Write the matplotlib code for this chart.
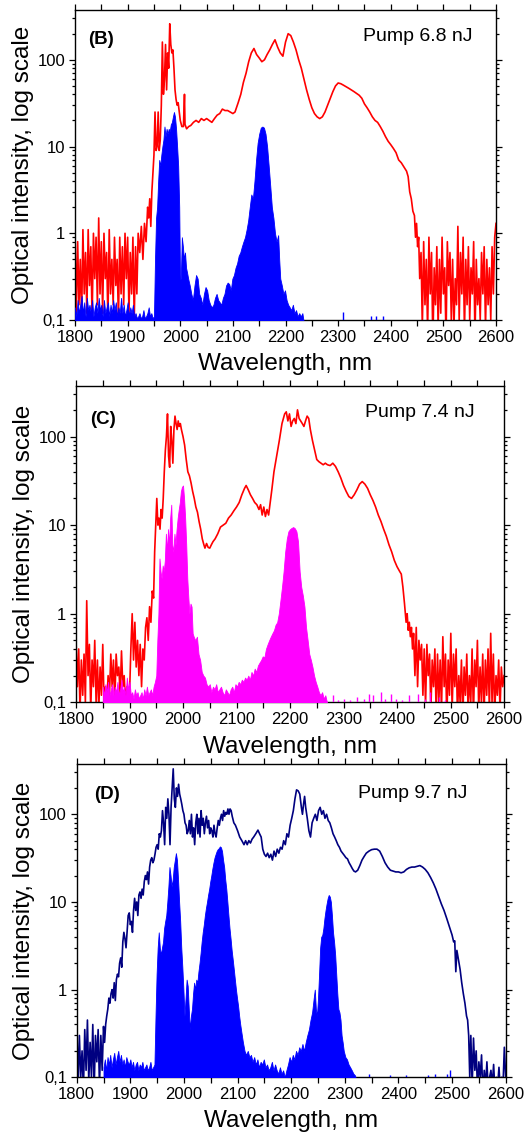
import numpy as np
import matplotlib
matplotlib.use("Agg")
import matplotlib.pyplot as plt
from matplotlib.ticker import FixedLocator, FuncFormatter, MultipleLocator

plt.rcParams['font.family'] = ['Liberation Sans', 'DejaVu Sans']

# ---------------- data (wavelength nm, intensity a.u.) -------------

def seg(start, stop, vals):
    # noisy stretch: values typed by hand, spread evenly between start and stop
    return list(zip(np.linspace(start, stop, len(vals)), vals))

# (B) pump 6.8 nJ
b_red = seg(1800, 1920, [1.0, 0.12, 0.8, 0.15, 0.5, 0.1, 1.1, 0.2, 0.6, 0.12, 1.1, 0.25, 0.7, 0.1,
                         1.0, 0.3, 0.9, 0.15, 1.5, 0.2, 0.8, 0.12, 1.0, 0.3, 0.6, 0.1, 1.1, 0.2, 0.5,
                         0.15, 0.9, 0.25, 0.5, 0.1, 0.9, 0.2, 0.7, 0.15, 1.0, 0.3, 0.9, 0.12, 0.6, 0.2,
                         0.9, 0.1, 0.7, 0.2, 1.0]) + [
    (1923, 0.6), (1926, 1.2), (1929, 0.5), (1932, 1.3), (1935, 0.8), (1938, 2.0), (1940, 1.5),
    (1942, 2.5), (1944, 1.2), (1946, 3.0), (1948, 5), (1950, 8), (1952, 25), (1954, 9), (1956, 10),
    (1958, 25), (1960, 9), (1962, 12), (1964, 30), (1966, 160), (1968, 40), (1970, 60), (1972, 150),
    (1974, 45), (1976, 120), (1978, 80), (1980, 260), (1982, 150), (1984, 120), (1986, 130),
    (1988, 80), (1990, 45), (1992, 35), (1994, 30), (1996, 32), (1998, 25), (2000, 20), (2003, 17),
    (2006, 17), (2008, 40), (2009, 18), (2012, 16), (2016, 17), (2020, 17.5), (2025, 19), (2030, 20),
    (2035, 19), (2040, 21), (2045, 20), (2050, 21), (2055, 20), (2060, 19), (2065, 21), (2070, 23),
    (2075, 24), (2080, 27), (2085, 26), (2090, 26), (2095, 25), (2100, 24), (2104, 25), (2110, 32),
    (2115, 40), (2120, 55), (2125, 70), (2130, 95), (2135, 120), (2140, 135), (2145, 115),
    (2150, 105), (2155, 95), (2160, 100), (2165, 115), (2170, 130), (2175, 150), (2180, 170),
    (2185, 140), (2190, 120), (2195, 110), (2200, 160), (2205, 200), (2210, 190), (2215, 160),
    (2220, 130), (2225, 100), (2230, 80), (2235, 60), (2240, 45), (2245, 35), (2250, 28), (2255, 24),
    (2260, 22), (2265, 21), (2270, 22), (2275, 25), (2280, 30), (2285, 36), (2290, 43), (2295, 50),
    (2300, 54), (2305, 53), (2310, 51), (2320, 47), (2330, 43), (2340, 39), (2345, 36), (2350, 31),
    (2355, 28), (2360, 25), (2365, 22), (2370, 20), (2375, 19), (2380, 17), (2385, 15), (2390, 13),
    (2395, 11.5), (2400, 10.5), (2405, 9.5), (2410, 8.5), (2415, 7), (2420, 6.5), (2425, 5.8),
    (2430, 5.2), (2433, 4.5), (2436, 3), (2439, 2.5), (2442, 1.8), (2445, 1.6), (2447, 0.9),
    (2449, 1.3), (2451, 0.7), (2453, 0.9), (2455, 0.3)] + seg(2457.5, 2600, [
    0.6, 0.08, 0.8, 0.15, 0.5, 0.07, 0.9, 0.2, 0.6, 0.05, 0.4, 0.15, 0.7, 0.08, 0.5, 0.12, 0.9, 0.2,
    0.4, 0.06, 0.8, 0.25, 0.6, 0.1, 0.5, 0.08, 0.3, 0.15, 1.2, 0.1, 0.6, 0.2, 0.9, 0.07, 0.5, 0.15,
    0.7, 0.1, 0.4, 0.2, 0.8, 0.06, 0.5, 0.15, 0.3, 0.1, 0.6, 0.2, 0.7, 0.08, 0.5, 0.15, 0.4, 0.1,
    0.7, 0.2, 0.9, 1.3])

b_blue = seg(1800, 1950, [0.14, 0.11, 0.17, 0.12, 0.15, 0.19, 0.12, 0.16, 0.11, 0.18, 0.13, 0.15,
                          0.12, 0.17, 0.11, 0.14, 0.16, 0.12, 0.18, 0.13, 0.15, 0.11, 0.17, 0.12,
                          0.14, 0.16, 0.11, 0.15, 0.12, 0.17, 0.13, 0.16, 0.11, 0.14, 0.12, 0.18,
                          0.12, 0.15, 0.11, 0.13, 0.16, 0.11, 0.14, 0.12, 0.15, 0.11, 0.12, 0.105,
                          0.11, 0.12, 0.105, 0.11, 0.13, 0.105, 0.11, 0.12, 0.14, 0.11, 0.12, 0.105,
                          0.11]) + [
    (1952, 0.5), (1954, 1.5), (1956, 2.0), (1958, 4), (1960, 7), (1962, 6), (1964, 8), (1966, 10),
    (1968, 12), (1970, 17), (1972, 13), (1974, 16), (1976, 14), (1978, 16), (1980, 15), (1982, 18),
    (1984, 19), (1986, 22), (1988, 25), (1990, 22), (1992, 16), (1994, 10), (1996, 6), (1998, 2),
    (1999.5, 0.3), (2001, 0.3), (2003, 0.9), (2005, 0.7), (2007, 0.5), (2009, 0.6), (2011, 0.4),
    (2013, 0.35), (2015, 0.3), (2018, 0.25), (2021, 0.2), (2024, 0.17), (2027, 0.25), (2030, 0.33),
    (2033, 0.3), (2036, 0.2), (2039, 0.18), (2042, 0.15), (2045, 0.2), (2048, 0.24), (2051, 0.22),
    (2054, 0.17), (2057, 0.15), (2060, 0.14), (2063, 0.15), (2066, 0.18), (2069, 0.2), (2072, 0.17),
    (2075, 0.16), (2078, 0.15), (2081, 0.18), (2084, 0.2), (2087, 0.25), (2090, 0.27), (2093, 0.26),
    (2096, 0.22), (2099, 0.3), (2102, 0.33), (2105, 0.4), (2108, 0.45), (2111, 0.55), (2114, 0.6),
    (2117, 0.7), (2120, 0.8), (2123, 0.9), (2126, 1.1), (2129, 1.4), (2132, 2.0), (2135, 2.8),
    (2138, 2.5), (2141, 4), (2144, 7), (2147, 11), (2150, 14), (2153, 16.5), (2156, 17), (2159, 16.5),
    (2162, 14), (2165, 10), (2168, 6), (2171, 3.5), (2174, 2), (2177, 1.5), (2180, 1.0), (2183, 0.8),
    (2186, 0.95), (2188, 0.5), (2190, 0.3), (2193, 0.25), (2196, 0.2), (2199, 0.22), (2202, 0.17),
    (2205, 0.15), (2208, 0.14), (2211, 0.13), (2214, 0.15), (2217, 0.12), (2220, 0.13), (2223, 0.11),
    (2226, 0.12), (2229, 0.11), (2232, 0.12), (2234, 0.1), (2236, 0.09)]
b_blue_spikes_wl = [2310, 2363, 2372, 2385]
b_blue_spikes = [0.125, 0.11, 0.11, 0.11]

# (C) pump 7.4 nJ
c_red = seg(1800, 1945, [0.5, 0.15, 0.4, 0.08, 0.3, 0.12, 0.35, 0.1, 1.4, 0.2, 0.45, 0.08, 0.3,
                         0.15, 0.5, 0.1, 0.3, 0.08, 0.25, 0.12, 0.45, 0.09, 0.15, 0.1, 0.2, 0.12,
                         0.35, 0.15, 0.3, 0.1, 0.35, 0.2, 0.25, 0.12, 0.38, 0.15, 0.2, 0.1, 0.15,
                         0.1, 0.12, 0.4, 1.0, 0.3, 0.8, 0.25, 0.5, 0.2, 0.45, 0.15, 0.4, 0.3, 0.7,
                         0.9, 0.5, 1.2, 0.8, 1.8, 1.5]) + [
    (1947, 5), (1949, 10), (1951, 20), (1953, 10), (1955, 12), (1957, 9), (1959, 15), (1961, 12),
    (1963, 20), (1965, 40), (1967, 70), (1969, 100), (1971, 180), (1973, 60), (1975, 45), (1977, 130),
    (1979, 90), (1981, 50), (1983, 120), (1985, 170), (1987, 140), (1989, 120), (1991, 150),
    (1993, 130), (1995, 140), (1997, 120), (2000, 100), (2003, 80), (2006, 55), (2009, 40), (2012, 36),
    (2015, 30), (2018, 24), (2021, 20), (2024, 16), (2027, 14), (2030, 11), (2033, 9), (2036, 7),
    (2039, 6), (2041, 5.5), (2044, 6.2), (2047, 5.6), (2050, 5.5), (2053, 6), (2056, 6.5), (2060, 7),
    (2065, 8), (2070, 9.5), (2075, 10), (2080, 10.5), (2085, 12), (2090, 13), (2095, 14.5),
    (2100, 16), (2105, 18), (2110, 22), (2115, 26), (2118, 28), (2122, 25), (2126, 22), (2130, 20),
    (2134, 18), (2138, 17), (2142, 15), (2145, 17), (2148, 13), (2151, 16), (2154, 12.5), (2157, 15),
    (2160, 13), (2163, 18), (2166, 25), (2170, 40), (2175, 60), (2180, 90), (2185, 140), (2190, 180),
    (2193, 190), (2196, 150), (2199, 180), (2202, 130), (2205, 150), (2208, 160), (2211, 140),
    (2214, 200), (2217, 160), (2220, 150), (2223, 140), (2226, 130), (2229, 150), (2232, 170),
    (2235, 160), (2238, 120), (2242, 90), (2246, 70), (2250, 55), (2254, 52), (2258, 50), (2262, 48),
    (2266, 50), (2270, 48), (2275, 47), (2280, 50), (2285, 46), (2290, 40), (2295, 34), (2300, 28),
    (2305, 24), (2310, 21), (2315, 20), (2320, 22), (2325, 25), (2330, 29), (2335, 31), (2340, 29),
    (2345, 26), (2350, 22), (2355, 19), (2360, 16), (2365, 13), (2370, 11), (2375, 9), (2380, 7.5),
    (2385, 6), (2390, 5), (2395, 4), (2400, 3.4), (2405, 3), (2408, 2.8), (2411, 2), (2414, 1.3),
    (2417, 0.8), (2419, 1.0), (2421, 0.65), (2423, 0.8), (2425, 0.55), (2427, 0.7),
    (2429, 0.4)] + seg(2431, 2600, [
    0.6, 0.2, 0.7, 0.15, 0.5, 0.3, 0.45, 0.12, 0.4, 0.09, 0.45, 0.2, 0.35, 0.08, 0.3, 0.15, 0.4,
    0.07, 0.35, 0.1, 0.3, 0.08, 0.55, 0.15, 0.35, 0.06, 0.3, 0.12, 0.6, 0.08, 0.35, 0.15, 0.4, 0.07,
    0.2, 0.1, 0.3, 0.06, 0.25, 0.12, 0.35, 0.08, 0.2, 0.1, 0.4, 0.07, 0.3, 0.15, 0.5, 0.08, 0.25,
    0.1, 0.35, 0.07, 0.3, 0.12, 0.4, 0.08, 0.6, 0.1, 0.35, 0.07, 0.2, 0.12, 0.3, 0.08, 0.25, 0.15,
    0.2])

c_magenta = seg(1850, 1950, [0.15, 0.12, 0.16, 0.13, 0.17, 0.12, 0.14, 0.16, 0.12, 0.15, 0.13,
                             0.17, 0.12, 0.14, 0.18, 0.13, 0.15, 0.12, 0.19, 0.14, 0.17, 0.12, 0.13,
                             0.11, 0.14, 0.12, 0.13, 0.11, 0.12, 0.13, 0.11, 0.14, 0.12, 0.15, 0.12,
                             0.13, 0.14, 0.12, 0.15, 0.17, 0.2]) + [
    (1952, 0.5), (1954, 1.0), (1956, 4.2), (1958, 3), (1960, 2.5), (1962, 3.5), (1964, 3), (1966, 4),
    (1968, 8), (1970, 5), (1972, 9), (1974, 6), (1976, 12), (1978, 17), (1980, 6), (1982, 5),
    (1984, 8), (1986, 6), (1988, 9), (1990, 12), (1992, 15), (1994, 18), (1996, 24), (1998, 27),
    (2000, 28), (2002, 20), (2004, 12), (2006, 6), (2008, 2.5), (2010, 1.5), (2012, 1.0), (2014, 1.3),
    (2016, 1.2), (2018, 0.6), (2020, 0.55), (2023, 0.5), (2026, 0.55), (2029, 0.35), (2032, 0.3),
    (2035, 0.22), (2038, 0.2), (2041, 0.19), (2044, 0.16), (2047, 0.15), (2050, 0.16), (2053, 0.13),
    (2056, 0.15), (2059, 0.14), (2062, 0.16), (2065, 0.13), (2068, 0.14), (2071, 0.15), (2074, 0.13),
    (2077, 0.12), (2080, 0.14), (2083, 0.13), (2086, 0.12), (2089, 0.14), (2092, 0.15), (2095, 0.13),
    (2098, 0.16), (2101, 0.15), (2104, 0.17), (2107, 0.16), (2110, 0.18), (2113, 0.17), (2116, 0.19),
    (2119, 0.18), (2122, 0.2), (2125, 0.18), (2128, 0.22), (2131, 0.2), (2134, 0.24), (2137, 0.22),
    (2140, 0.26), (2143, 0.28), (2146, 0.3), (2149, 0.33), (2152, 0.32), (2155, 0.4), (2158, 0.45),
    (2161, 0.5), (2164, 0.55), (2167, 0.6), (2170, 0.65), (2173, 0.75), (2176, 0.8), (2179, 1.0),
    (2182, 1.4), (2185, 2.0), (2188, 3), (2191, 5), (2194, 7), (2197, 8.5), (2200, 9), (2203, 9.3),
    (2206, 9.5), (2209, 9.2), (2212, 8.5), (2215, 6.5), (2218, 3), (2221, 2), (2224, 1.6),
    (2227, 1.2), (2230, 0.7), (2233, 0.5), (2236, 0.35), (2239, 0.3), (2242, 0.25), (2245, 0.2),
    (2248, 0.17), (2251, 0.15), (2254, 0.13), (2257, 0.12), (2260, 0.13), (2263, 0.11), (2266, 0.12),
    (2269, 0.1), (2271, 0.09)]
c_magenta_spikes_wl = [2280, 2290, 2300, 2312, 2325, 2338, 2348, 2356, 2370, 2378, 2388, 2398,
                       2410, 2422, 2440, 2452, 2462, 2478, 2490]
c_magenta_spikes = [0.12, 0.105, 0.11, 0.105, 0.115, 0.11, 0.125, 0.12, 0.13, 0.11, 0.125, 0.11,
                    0.105, 0.12, 0.125, 0.11, 0.13, 0.115, 0.105]

# (D) pump 9.7 nJ
d_navy = seg(1800, 1850, [0.5, 0.08, 0.3, 0.1, 0.2, 0.07, 0.35, 0.12, 0.45, 0.09, 0.25, 0.1, 0.4,
                          0.07, 0.3, 0.15, 0.35, 0.08, 0.3, 0.12, 0.38]) + [
    (1852, 0.25), (1854, 0.4), (1856, 0.5), (1858, 0.6), (1860, 0.8), (1862, 0.7), (1864, 0.9),
    (1866, 1.0), (1868, 0.8), (1870, 1.2), (1872, 0.75), (1874, 1.3), (1876, 1.5), (1878, 1.4),
    (1880, 2.0), (1882, 2.3), (1884, 1.8), (1886, 3.5), (1888, 4.5), (1890, 3.8), (1892, 3.0),
    (1894, 4.5), (1896, 7), (1898, 7.5), (1900, 5.5), (1902, 6), (1904, 4.5), (1906, 8), (1908, 11),
    (1910, 8), (1912, 10), (1914, 7), (1916, 12), (1918, 13), (1920, 11), (1922, 14), (1924, 12),
    (1926, 17), (1928, 20), (1930, 18), (1932, 22), (1934, 16), (1936, 25), (1938, 30), (1940, 32),
    (1942, 28), (1944, 30), (1946, 35), (1948, 42), (1950, 45), (1952, 40), (1954, 60), (1956, 55),
    (1958, 65), (1960, 110), (1962, 80), (1964, 45), (1966, 120), (1968, 90), (1970, 150),
    (1972, 100), (1974, 45), (1976, 120), (1978, 200), (1980, 330), (1982, 150), (1984, 120),
    (1986, 200), (1988, 160), (1990, 220), (1992, 170), (1994, 150), (1996, 130), (1998, 110),
    (2000, 100), (2002, 80), (2004, 75), (2006, 60), (2008, 65), (2010, 85), (2012, 60), (2014, 100),
    (2016, 55), (2018, 70), (2020, 45), (2022, 80), (2024, 100), (2026, 60), (2028, 90), (2030, 55),
    (2032, 110), (2034, 75), (2036, 90), (2038, 60), (2040, 80), (2042, 95), (2044, 70), (2046, 85),
    (2048, 60), (2050, 70), (2052, 65), (2054, 55), (2056, 75), (2058, 60), (2060, 55), (2062, 70),
    (2064, 85), (2066, 75), (2068, 90), (2070, 100), (2072, 85), (2074, 110), (2076, 95),
    (2078, 105), (2080, 100), (2082, 115), (2084, 100), (2086, 115), (2088, 110), (2090, 95),
    (2093, 80), (2096, 75), (2100, 65), (2104, 55), (2108, 50), (2112, 45), (2115, 50), (2118, 45),
    (2121, 50), (2124, 47), (2127, 52), (2130, 55), (2134, 60), (2138, 66), (2141, 60), (2144, 55),
    (2147, 40), (2150, 35), (2153, 33), (2156, 36), (2159, 32), (2162, 35), (2165, 30), (2168, 38),
    (2171, 33), (2174, 40), (2177, 36), (2180, 42), (2183, 40), (2186, 50), (2189, 45), (2192, 60),
    (2195, 55), (2198, 75), (2201, 90), (2204, 110), (2207, 150), (2210, 190), (2213, 185),
    (2216, 170), (2219, 120), (2221, 100), (2223, 130), (2225, 160), (2227, 120), (2230, 90),
    (2233, 65), (2236, 55), (2239, 80), (2242, 90), (2245, 100), (2248, 85), (2251, 110), (2254, 120),
    (2257, 100), (2260, 110), (2263, 90), (2266, 100), (2269, 85), (2272, 80), (2275, 70), (2278, 60),
    (2281, 55), (2284, 50), (2287, 45), (2290, 42), (2293, 38), (2296, 36), (2299, 34), (2302, 32),
    (2305, 31), (2308, 28), (2311, 26), (2314, 24), (2317, 22.5), (2320, 22), (2324, 23), (2328, 26),
    (2332, 30), (2336, 33), (2340, 36), (2345, 38), (2350, 39.5), (2355, 40), (2360, 40), (2365, 38),
    (2370, 33), (2375, 28), (2380, 25), (2385, 23), (2390, 22.5), (2395, 22), (2400, 22),
    (2405, 21.5), (2410, 22), (2415, 23.5), (2420, 24.5), (2425, 25), (2430, 25), (2435, 25.5),
    (2440, 26), (2445, 25), (2450, 23.5), (2455, 21.5), (2460, 19), (2465, 16.5), (2470, 14),
    (2475, 11.5), (2480, 9.5), (2485, 8), (2490, 6.5), (2495, 5.2), (2500, 4.2), (2503, 3.5),
    (2505, 3.6), (2507, 1.6), (2509, 2.8), (2512, 2.2), (2515, 1.7), (2518, 1.2), (2521, 0.9),
    (2524, 0.7), (2527, 0.5), (2529, 0.45), (2531, 0.3), (2533, 0.1)] + seg(2535, 2600, [
    0.3, 0.08, 0.28, 0.12, 0.2, 0.07, 0.15, 0.1, 0.18, 0.06, 0.12, 0.08, 0.15, 0.07, 0.1, 0.12,
    0.08, 0.14, 0.07, 0.1, 0.08, 0.13, 0.07, 0.1, 0.08, 0.22, 0.1])

d_blue = seg(1850, 1945, [0.13, 0.16, 0.12, 0.17, 0.14, 0.18, 0.13, 0.16, 0.19, 0.14, 0.17, 0.2,
                          0.15, 0.18, 0.14, 0.16, 0.13, 0.17, 0.15, 0.14, 0.16, 0.13, 0.15, 0.12,
                          0.14, 0.15, 0.12, 0.14, 0.13, 0.15, 0.12, 0.13, 0.14, 0.12, 0.13, 0.15,
                          0.12, 0.13, 0.14]) + [
    (1947, 0.5), (1949, 1.5), (1951, 3), (1953, 4.5), (1955, 3), (1957, 2.5), (1959, 3), (1961, 3.5),
    (1963, 5), (1965, 6), (1967, 7), (1969, 10), (1971, 15), (1973, 25), (1975, 20), (1977, 15),
    (1979, 18), (1981, 25), (1983, 30), (1985, 36), (1987, 30), (1989, 18), (1991, 10), (1993, 6),
    (1995, 3), (1997, 1.8), (1999, 1.0), (2001, 0.5), (2003, 0.8), (2005, 1.3), (2007, 1.1),
    (2009, 0.6), (2011, 0.35), (2013, 0.5), (2015, 0.6), (2017, 0.9), (2019, 1.2), (2021, 1.0),
    (2023, 1.3), (2025, 1.2), (2027, 1.6), (2029, 2.0), (2031, 2.6), (2033, 3.5), (2035, 4.5),
    (2037, 5.5), (2039, 7), (2041, 8.5), (2043, 10), (2045, 12), (2047, 14), (2049, 17), (2051, 20),
    (2053, 24), (2055, 28), (2057, 32), (2059, 35), (2061, 38), (2063, 40), (2065, 41), (2067, 43),
    (2069, 42), (2071, 38), (2073, 30), (2075, 25), (2077, 18), (2079, 14), (2081, 10), (2083, 7),
    (2085, 5), (2087, 3.8), (2089, 2.8), (2091, 2.2), (2093, 1.7), (2095, 1.3), (2097, 1.0),
    (2099, 0.8), (2101, 0.65), (2103, 0.5), (2105, 0.4), (2107, 0.33), (2110, 0.25), (2113, 0.2),
    (2116, 0.18), (2119, 0.2), (2122, 0.17), (2125, 0.18), (2128, 0.15), (2131, 0.17), (2134, 0.14),
    (2137, 0.16), (2140, 0.13), (2143, 0.15), (2146, 0.14), (2149, 0.16), (2152, 0.13), (2155, 0.14),
    (2158, 0.12), (2161, 0.13), (2164, 0.15), (2167, 0.12), (2170, 0.14), (2173, 0.12), (2176, 0.11),
    (2179, 0.13), (2182, 0.11), (2185, 0.12), (2188, 0.1), (2191, 0.12), (2194, 0.14), (2197, 0.17),
    (2200, 0.15), (2203, 0.18), (2206, 0.16), (2209, 0.2), (2212, 0.18), (2215, 0.22), (2218, 0.2),
    (2221, 0.24), (2224, 0.2), (2227, 0.25), (2230, 0.3), (2233, 0.35), (2236, 0.45), (2239, 0.55),
    (2242, 0.8), (2244, 1.0), (2246, 0.6), (2248, 0.5), (2250, 0.8), (2252, 1.5), (2254, 3),
    (2256, 4), (2258, 4.2), (2260, 5), (2262, 6.5), (2264, 8), (2266, 9.5), (2268, 11), (2270, 12),
    (2272, 11.5), (2274, 10), (2276, 7), (2278, 4.5), (2280, 3.5), (2282, 2.5), (2284, 1.5),
    (2286, 0.9), (2288, 0.6), (2290, 0.55), (2292, 0.45), (2294, 0.3), (2296, 0.25), (2298, 0.2),
    (2301, 0.17), (2304, 0.16), (2307, 0.14), (2310, 0.13), (2313, 0.12), (2316, 0.11),
    (2319, 0.105), (2322, 0.09)]
d_blue_spikes_wl = [2345, 2385, 2415, 2455, 2468, 2490, 2497]
d_blue_spikes = [0.11, 0.105, 0.105, 0.105, 0.11, 0.11, 0.12]

panels = [
    dict(line=b_red, line_color='#ff0000', fill=b_blue, fill_color='#0000ff',
         spikes=(b_blue_spikes_wl, b_blue_spikes), tag='(B)', pump='Pump 6.8 nJ',
         rect=[0.1429, 0.7183, 0.8019, 0.2729], tag_xy=(0.031, 0.906), pump_xy=(0.684, 0.916)),
    dict(line=c_red, line_color='#ff0000', fill=c_magenta, fill_color='#ff00ff',
         spikes=(c_magenta_spikes_wl, c_magenta_spikes), tag='(C)', pump='Pump 7.4 nJ',
         rect=[0.1448, 0.3818, 0.8152, 0.2787], tag_xy=(0.033, 0.894), pump_xy=(0.675, 0.914)),
    dict(line=d_navy, line_color='#000080', fill=d_blue, fill_color='#0000ff',
         spikes=(d_blue_spikes_wl, d_blue_spikes), tag='(D)', pump='Pump 9.7 nJ',
         rect=[0.1461, 0.0517, 0.8171, 0.2758], tag_xy=(0.041, 0.904), pump_xy=(0.656, 0.907)),
]

fig = plt.figure(figsize=(5.25, 11.36), dpi=100)

for p in panels:
    ax = fig.add_axes(p['rect'])
    lw, li = zip(*p['line'])
    fw, fi = zip(*p['fill'])
    ax.plot(lw, li, color=p['line_color'], lw=1.2, zorder=2)
    ax.fill_between(fw, 0.01, fi, color=p['fill_color'], lw=0.6, zorder=3)
    sw, si = p['spikes']
    ax.vlines(sw, 0.01, si, color=p['fill_color'], lw=1.0, zorder=3)

    ax.set_yscale('log')
    ax.set_xlim(1800, 2600)
    ax.set_ylim(0.1, 375)

    ax.xaxis.set_major_locator(MultipleLocator(100))
    ax.xaxis.set_minor_locator(MultipleLocator(50))
    ax.yaxis.set_major_locator(FixedLocator([0.1, 1, 10, 100]))
    ax.yaxis.set_major_formatter(FuncFormatter(lambda v, _: '0,1' if v < 0.5 else f'{v:.0f}'))
    minors = [m * 10.0 ** e for e in range(-1, 3) for m in range(2, 10)]
    ax.yaxis.set_minor_locator(FixedLocator(minors))
    ax.yaxis.set_minor_formatter(FuncFormatter(lambda v, _: ''))

    ax.tick_params(which='both', direction='out', top=True, right=True, width=0.9,
                   labelsize=12, pad=3)
    ax.tick_params(axis='x', which='both', length=4)
    ax.tick_params(axis='y', which='major', length=4)
    ax.tick_params(axis='y', which='minor', length=2)
    for s in ax.spines.values():
        s.set_linewidth(1.0)

    ax.set_xlabel('Wavelength, nm', fontsize=17.5)
    ax.set_ylabel('Optical intensity, log scale', fontsize=17.5)
    ax.xaxis.set_label_coords(0.5, -0.105)
    ax.yaxis.set_label_coords(-0.097, 0.5)

    ax.text(*p['tag_xy'], p['tag'], transform=ax.transAxes, fontsize=13.5, fontweight='bold',
            ha='left', va='center')
    ax.text(*p['pump_xy'], p['pump'], transform=ax.transAxes, fontsize=14,
            ha='left', va='center')

fig.savefig('out.png', dpi=100)
